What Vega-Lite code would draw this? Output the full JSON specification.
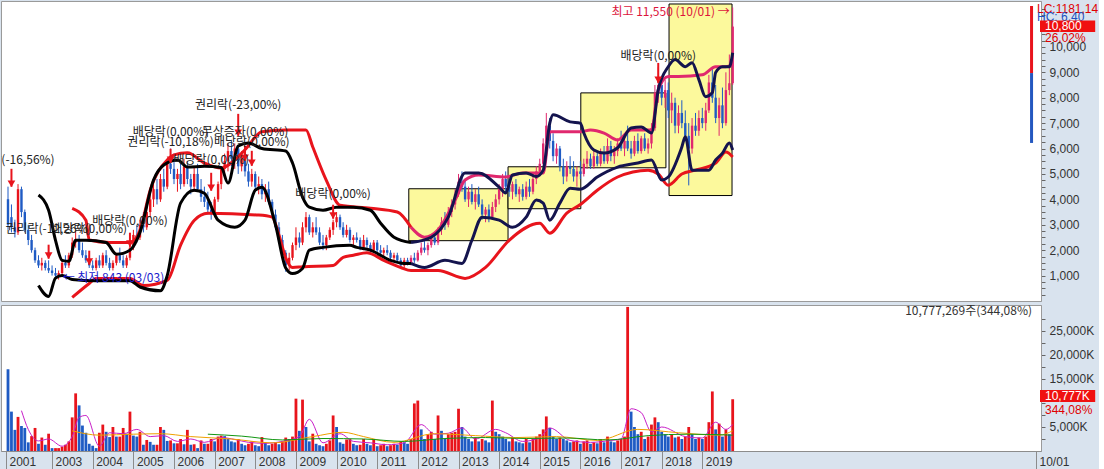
{
"$schema":"https://vega.github.io/schema/vega-lite/v6.json",
"background":"#d9e3ee",
"padding":0,
"spacing":2,
"config":{"view":{"stroke":"#9a9a9a","fill":"#ffffff"},"font":"Noto Sans CJK KR",
"axisY":{"tickSize":4,"tickColor":"#666666","domainColor":"#9a9a9a","labelColor":"#333333","labelFont":"Liberation Sans","labelFontSize":12,"labelPadding":4,"labelOverlap":false,"labelFlush":false,"labelBound":false,"grid":false}},
"datasets":{
"px":[
{"d":"2001-12","o":4000,"h":4500,"l":2800,"c":3000,"v":17000},
{"d":"2002-01","o":3300,"h":3800,"l":2700,"c":2900,"v":8200},
{"d":"2002-02","o":2900,"h":3200,"l":2500,"c":2700,"v":4400},
{"d":"2002-03","o":2700,"h":4600,"l":2600,"c":4400,"v":7100},
{"d":"2002-04","o":4400,"h":4500,"l":3300,"c":3500,"v":5200},
{"d":"2002-05","o":3500,"h":3600,"l":2700,"c":2800,"v":4800},
{"d":"2002-06","o":2800,"h":3000,"l":2200,"c":2400,"v":1800},
{"d":"2002-07","o":2400,"h":2600,"l":1900,"c":2000,"v":3100},
{"d":"2002-08","o":2000,"h":2100,"l":1500,"c":1600,"v":4800},
{"d":"2002-09","o":1600,"h":1800,"l":1300,"c":1400,"v":1500},
{"d":"2002-10","o":1400,"h":1700,"l":1200,"c":1500,"v":2800},
{"d":"2002-11","o":1500,"h":1600,"l":1200,"c":1300,"v":1300},
{"d":"2002-12","o":1300,"h":1600,"l":1100,"c":1200,"v":3600},
{"d":"2003-01","o":1200,"h":1400,"l":1000,"c":1100,"v":600},
{"d":"2003-02","o":1100,"h":1300,"l":950,"c":1000,"v":600},
{"d":"2003-03","o":1000,"h":1200,"l":843,"c":1100,"v":600},
{"d":"2003-04","o":1100,"h":1600,"l":1000,"c":1500,"v":900},
{"d":"2003-05","o":1500,"h":1800,"l":1300,"c":1400,"v":1300},
{"d":"2003-06","o":1400,"h":1900,"l":1300,"c":1800,"v":2000},
{"d":"2003-07","o":1800,"h":2500,"l":1700,"c":2300,"v":7000},
{"d":"2003-08","o":2300,"h":2800,"l":2100,"c":2400,"v":12000},
{"d":"2003-09","o":2400,"h":2600,"l":1900,"c":2000,"v":9500},
{"d":"2003-10","o":2000,"h":2300,"l":1700,"c":1800,"v":5300},
{"d":"2003-11","o":1800,"h":2000,"l":1500,"c":1600,"v":3800},
{"d":"2003-12","o":1600,"h":1800,"l":1300,"c":1400,"v":1500},
{"d":"2004-01","o":1400,"h":1600,"l":1200,"c":1300,"v":1100},
{"d":"2004-02","o":1300,"h":1700,"l":1200,"c":1600,"v":600},
{"d":"2004-03","o":1600,"h":1800,"l":1300,"c":1400,"v":3800},
{"d":"2004-04","o":1400,"h":1900,"l":1300,"c":1800,"v":5500},
{"d":"2004-05","o":1800,"h":2000,"l":1400,"c":1500,"v":4000},
{"d":"2004-06","o":1500,"h":1700,"l":1200,"c":1300,"v":2900},
{"d":"2004-07","o":1300,"h":1600,"l":1200,"c":1500,"v":5000},
{"d":"2004-08","o":1500,"h":1900,"l":1400,"c":1800,"v":3000},
{"d":"2004-09","o":1800,"h":2100,"l":1500,"c":1600,"v":3000},
{"d":"2004-10","o":1600,"h":1800,"l":1300,"c":1400,"v":4800},
{"d":"2004-11","o":1400,"h":1800,"l":1300,"c":1700,"v":3600},
{"d":"2004-12","o":1700,"h":2200,"l":1600,"c":2100,"v":8200},
{"d":"2005-01","o":2100,"h":2800,"l":2000,"c":2600,"v":3200},
{"d":"2005-02","o":2600,"h":3000,"l":2300,"c":2500,"v":3000},
{"d":"2005-03","o":2500,"h":3200,"l":2400,"c":3000,"v":4000},
{"d":"2005-04","o":3000,"h":3500,"l":2700,"c":2900,"v":1300},
{"d":"2005-05","o":2900,"h":3700,"l":2800,"c":3500,"v":2300},
{"d":"2005-06","o":3500,"h":4200,"l":3300,"c":4000,"v":1900},
{"d":"2005-07","o":4000,"h":4600,"l":3700,"c":4400,"v":1300},
{"d":"2005-08","o":4400,"h":4800,"l":3800,"c":4000,"v":1300},
{"d":"2005-09","o":4000,"h":5000,"l":3900,"c":4800,"v":5000},
{"d":"2005-10","o":4800,"h":5200,"l":4300,"c":4500,"v":4400},
{"d":"2005-11","o":4500,"h":5600,"l":4400,"c":5400,"v":2100},
{"d":"2005-12","o":5400,"h":6000,"l":5000,"c":5200,"v":2200},
{"d":"2006-01","o":5200,"h":5800,"l":4600,"c":4800,"v":1600},
{"d":"2006-02","o":4800,"h":5200,"l":4300,"c":5000,"v":1600},
{"d":"2006-03","o":5000,"h":5400,"l":4400,"c":4600,"v":2500},
{"d":"2006-04","o":4600,"h":5600,"l":4500,"c":5300,"v":1400},
{"d":"2006-05","o":5300,"h":5500,"l":4600,"c":4800,"v":4400},
{"d":"2006-06","o":4800,"h":5000,"l":4200,"c":4500,"v":1300},
{"d":"2006-07","o":4500,"h":5300,"l":4300,"c":5000,"v":1400},
{"d":"2006-08","o":5000,"h":5400,"l":4300,"c":4400,"v":600},
{"d":"2006-09","o":4400,"h":4800,"l":3900,"c":4100,"v":2200},
{"d":"2006-10","o":4100,"h":4500,"l":3700,"c":3900,"v":1500},
{"d":"2006-11","o":3900,"h":4300,"l":3400,"c":3600,"v":1500},
{"d":"2006-12","o":3600,"h":3900,"l":3200,"c":3500,"v":2500},
{"d":"2007-01","o":3500,"h":4100,"l":3300,"c":4000,"v":2000},
{"d":"2007-02","o":4000,"h":4700,"l":3900,"c":4600,"v":3000},
{"d":"2007-03","o":4600,"h":5300,"l":4400,"c":5200,"v":3200},
{"d":"2007-04","o":5200,"h":5800,"l":4900,"c":5500,"v":3100},
{"d":"2007-05","o":5500,"h":6200,"l":5100,"c":5900,"v":2500},
{"d":"2007-06","o":5900,"h":6300,"l":5300,"c":5600,"v":2000},
{"d":"2007-07","o":5600,"h":6200,"l":5200,"c":6000,"v":1800},
{"d":"2007-08","o":6000,"h":6100,"l":5000,"c":5300,"v":2500},
{"d":"2007-09","o":5300,"h":5900,"l":5100,"c":5700,"v":1500},
{"d":"2007-10","o":5700,"h":5900,"l":4900,"c":5100,"v":1200},
{"d":"2007-11","o":5100,"h":5400,"l":4500,"c":4700,"v":1500},
{"d":"2007-12","o":4700,"h":5200,"l":4500,"c":5000,"v":2000},
{"d":"2008-01","o":5000,"h":5100,"l":4300,"c":4500,"v":1200},
{"d":"2008-02","o":4500,"h":4900,"l":4200,"c":4600,"v":1000},
{"d":"2008-03","o":4600,"h":4800,"l":4000,"c":4200,"v":2900},
{"d":"2008-04","o":4200,"h":4600,"l":3900,"c":4400,"v":1800},
{"d":"2008-05","o":4400,"h":4700,"l":3800,"c":3900,"v":1200},
{"d":"2008-06","o":3900,"h":4000,"l":3300,"c":3400,"v":1500},
{"d":"2008-07","o":3400,"h":3600,"l":2800,"c":2900,"v":1800},
{"d":"2008-08","o":2900,"h":3100,"l":2300,"c":2400,"v":1400},
{"d":"2008-09","o":2400,"h":2600,"l":1800,"c":1900,"v":2000},
{"d":"2008-10","o":1900,"h":2000,"l":1150,"c":1400,"v":2800},
{"d":"2008-11","o":1400,"h":1900,"l":1200,"c":1700,"v":2500},
{"d":"2008-12","o":1700,"h":2300,"l":1600,"c":2200,"v":3000},
{"d":"2009-01","o":2200,"h":2900,"l":2000,"c":2500,"v":10900},
{"d":"2009-02","o":2500,"h":2700,"l":2100,"c":2300,"v":4200},
{"d":"2009-03","o":2300,"h":3100,"l":2200,"c":2900,"v":10700},
{"d":"2009-04","o":2900,"h":3500,"l":2700,"c":3300,"v":5000},
{"d":"2009-05","o":3300,"h":3400,"l":2600,"c":2700,"v":2000},
{"d":"2009-06","o":2700,"h":3100,"l":2500,"c":2900,"v":3600},
{"d":"2009-07","o":2900,"h":3300,"l":2600,"c":2700,"v":1500},
{"d":"2009-08","o":2700,"h":2900,"l":2200,"c":2300,"v":1200},
{"d":"2009-09","o":2300,"h":2600,"l":2000,"c":2200,"v":1000},
{"d":"2009-10","o":2200,"h":2600,"l":2000,"c":2500,"v":1500},
{"d":"2009-11","o":2500,"h":2900,"l":2400,"c":2800,"v":2200},
{"d":"2009-12","o":2800,"h":3200,"l":2600,"c":3100,"v":7400},
{"d":"2010-01","o":3100,"h":3500,"l":2900,"c":3300,"v":5000},
{"d":"2010-02","o":3300,"h":3400,"l":2800,"c":2900,"v":1800},
{"d":"2010-03","o":2900,"h":3100,"l":2500,"c":2600,"v":1500},
{"d":"2010-04","o":2600,"h":3000,"l":2500,"c":2800,"v":2400},
{"d":"2010-05","o":2800,"h":2900,"l":2300,"c":2400,"v":2500},
{"d":"2010-06","o":2400,"h":2600,"l":2200,"c":2500,"v":1500},
{"d":"2010-07","o":2500,"h":2700,"l":2300,"c":2400,"v":1200},
{"d":"2010-08","o":2400,"h":2500,"l":2000,"c":2100,"v":1300},
{"d":"2010-09","o":2100,"h":2600,"l":2000,"c":2400,"v":2500},
{"d":"2010-10","o":2400,"h":2500,"l":2100,"c":2200,"v":1500},
{"d":"2010-11","o":2200,"h":2300,"l":1900,"c":2000,"v":1200},
{"d":"2010-12","o":2000,"h":2400,"l":1900,"c":2300,"v":2500},
{"d":"2011-01","o":2300,"h":2400,"l":1900,"c":2000,"v":1000},
{"d":"2011-02","o":2000,"h":2200,"l":1800,"c":1900,"v":1200},
{"d":"2011-03","o":1900,"h":2100,"l":1700,"c":2000,"v":1500},
{"d":"2011-04","o":2000,"h":2200,"l":1800,"c":1900,"v":1000},
{"d":"2011-05","o":1900,"h":2000,"l":1600,"c":1700,"v":1200},
{"d":"2011-06","o":1700,"h":1900,"l":1600,"c":1800,"v":1500},
{"d":"2011-07","o":1800,"h":1900,"l":1500,"c":1600,"v":1300},
{"d":"2011-08","o":1600,"h":1700,"l":1300,"c":1400,"v":2000},
{"d":"2011-09","o":1400,"h":1700,"l":1300,"c":1600,"v":1800},
{"d":"2011-10","o":1600,"h":1700,"l":1400,"c":1500,"v":1500},
{"d":"2011-11","o":1500,"h":1800,"l":1400,"c":1700,"v":2500},
{"d":"2011-12","o":1700,"h":1900,"l":1500,"c":1600,"v":9900},
{"d":"2012-01","o":1600,"h":2000,"l":1550,"c":1900,"v":10500},
{"d":"2012-02","o":1900,"h":2300,"l":1800,"c":2100,"v":4500},
{"d":"2012-03","o":2100,"h":2400,"l":1900,"c":2000,"v":2500},
{"d":"2012-04","o":2000,"h":2300,"l":1800,"c":2200,"v":3500},
{"d":"2012-05","o":2200,"h":2600,"l":2100,"c":2500,"v":4000},
{"d":"2012-06","o":2500,"h":2700,"l":2200,"c":2300,"v":2500},
{"d":"2012-07","o":2300,"h":2900,"l":2200,"c":2800,"v":7400},
{"d":"2012-08","o":2800,"h":3300,"l":2600,"c":3100,"v":4200},
{"d":"2012-09","o":3100,"h":3500,"l":2800,"c":3000,"v":2500},
{"d":"2012-10","o":3000,"h":3700,"l":2900,"c":3500,"v":3500},
{"d":"2012-11","o":3500,"h":4000,"l":3300,"c":3800,"v":3800},
{"d":"2012-12","o":3800,"h":4400,"l":3600,"c":4200,"v":4000},
{"d":"2013-01","o":4200,"h":5000,"l":4100,"c":4700,"v":8800},
{"d":"2013-02","o":4700,"h":5100,"l":4300,"c":4500,"v":5000},
{"d":"2013-03","o":4500,"h":4800,"l":3900,"c":4000,"v":3000},
{"d":"2013-04","o":4000,"h":4500,"l":3700,"c":4300,"v":2500},
{"d":"2013-05","o":4300,"h":4600,"l":3800,"c":3900,"v":2000},
{"d":"2013-06","o":3900,"h":4400,"l":3600,"c":4200,"v":2800},
{"d":"2013-07","o":4200,"h":4500,"l":3700,"c":3800,"v":2000},
{"d":"2013-08","o":3800,"h":4000,"l":3200,"c":3400,"v":2500},
{"d":"2013-09","o":3400,"h":3700,"l":3100,"c":3600,"v":2200},
{"d":"2013-10","o":3600,"h":3800,"l":3100,"c":3300,"v":1800},
{"d":"2013-11","o":3300,"h":3900,"l":3200,"c":3700,"v":10500},
{"d":"2013-12","o":3700,"h":4200,"l":3500,"c":4000,"v":4000},
{"d":"2014-01","o":4000,"h":4600,"l":3800,"c":4400,"v":3500},
{"d":"2014-02","o":4400,"h":5000,"l":4100,"c":4800,"v":3000},
{"d":"2014-03","o":4800,"h":5100,"l":4300,"c":4500,"v":2500},
{"d":"2014-04","o":4500,"h":4800,"l":4100,"c":4300,"v":2000},
{"d":"2014-05","o":4300,"h":4700,"l":4000,"c":4600,"v":2800},
{"d":"2014-06","o":4600,"h":4800,"l":4100,"c":4200,"v":2000},
{"d":"2014-07","o":4200,"h":4500,"l":3900,"c":4400,"v":1800},
{"d":"2014-08","o":4400,"h":4600,"l":3950,"c":4100,"v":1600},
{"d":"2014-09","o":4100,"h":4700,"l":4000,"c":4500,"v":2500},
{"d":"2014-10","o":4500,"h":4800,"l":4100,"c":4300,"v":1800},
{"d":"2014-11","o":4300,"h":5000,"l":4200,"c":4800,"v":2500},
{"d":"2014-12","o":4800,"h":5300,"l":4600,"c":5100,"v":3000},
{"d":"2015-01","o":5100,"h":5600,"l":4900,"c":5400,"v":3500},
{"d":"2015-02","o":5400,"h":6400,"l":5300,"c":6200,"v":4500},
{"d":"2015-03","o":6200,"h":7400,"l":5900,"c":6900,"v":7200},
{"d":"2015-04","o":6900,"h":7200,"l":6000,"c":6300,"v":4800},
{"d":"2015-05","o":6300,"h":6600,"l":5500,"c":5700,"v":3000},
{"d":"2015-06","o":5700,"h":6200,"l":5400,"c":6000,"v":2500},
{"d":"2015-07","o":6000,"h":6100,"l":5100,"c":5300,"v":2800},
{"d":"2015-08","o":5300,"h":5600,"l":4600,"c":4900,"v":2500},
{"d":"2015-09","o":4900,"h":5500,"l":4700,"c":5300,"v":2200},
{"d":"2015-10","o":5300,"h":5700,"l":5000,"c":5200,"v":1800},
{"d":"2015-11","o":5200,"h":5500,"l":4700,"c":4900,"v":2000},
{"d":"2015-12","o":4900,"h":5300,"l":4500,"c":5100,"v":2200},
{"d":"2016-01","o":5100,"h":5500,"l":4800,"c":5000,"v":1500},
{"d":"2016-02","o":5000,"h":5600,"l":4900,"c":5400,"v":2000},
{"d":"2016-03","o":5400,"h":5900,"l":5200,"c":5600,"v":2200},
{"d":"2016-04","o":5600,"h":5800,"l":5200,"c":5300,"v":1500},
{"d":"2016-05","o":5300,"h":5900,"l":5200,"c":5700,"v":1800},
{"d":"2016-06","o":5700,"h":5900,"l":5300,"c":5400,"v":1600},
{"d":"2016-07","o":5400,"h":6000,"l":5300,"c":5800,"v":2500},
{"d":"2016-08","o":5800,"h":6100,"l":5400,"c":5500,"v":1800},
{"d":"2016-09","o":5500,"h":6400,"l":5400,"c":6100,"v":3000},
{"d":"2016-10","o":6100,"h":6300,"l":5500,"c":5700,"v":2000},
{"d":"2016-11","o":5700,"h":6100,"l":5400,"c":5900,"v":1800},
{"d":"2016-12","o":5900,"h":6400,"l":5700,"c":6200,"v":2200},
{"d":"2017-01","o":6200,"h":6700,"l":5900,"c":6000,"v":2500},
{"d":"2017-02","o":6000,"h":6500,"l":5700,"c":6300,"v":3000},
{"d":"2017-03","o":6300,"h":6900,"l":5900,"c":6000,"v":30000},
{"d":"2017-04","o":6000,"h":6300,"l":5600,"c":5800,"v":8200},
{"d":"2017-05","o":5800,"h":6500,"l":5700,"c":6300,"v":5000},
{"d":"2017-06","o":6300,"h":6600,"l":5800,"c":5900,"v":3500},
{"d":"2017-07","o":5900,"h":6500,"l":5800,"c":6400,"v":4000},
{"d":"2017-08","o":6400,"h":6600,"l":5900,"c":6000,"v":2500},
{"d":"2017-09","o":6000,"h":6400,"l":5800,"c":6200,"v":3000},
{"d":"2017-10","o":6200,"h":7000,"l":6000,"c":6800,"v":5500},
{"d":"2017-11","o":6800,"h":8500,"l":6700,"c":8200,"v":7000},
{"d":"2017-12","o":8200,"h":9200,"l":7800,"c":8500,"v":6000},
{"d":"2018-01","o":8500,"h":8800,"l":7700,"c":8000,"v":4000},
{"d":"2018-02","o":8000,"h":8700,"l":7600,"c":8300,"v":3500},
{"d":"2018-03","o":8300,"h":8600,"l":7200,"c":7500,"v":3000},
{"d":"2018-04","o":7500,"h":8200,"l":7000,"c":7800,"v":3500},
{"d":"2018-05","o":7800,"h":8000,"l":6600,"c":6900,"v":2800},
{"d":"2018-06","o":6900,"h":7700,"l":6600,"c":7400,"v":3000},
{"d":"2018-07","o":7400,"h":7900,"l":6800,"c":7000,"v":2500},
{"d":"2018-08","o":7000,"h":7500,"l":6300,"c":6500,"v":3000},
{"d":"2018-09","o":6500,"h":7000,"l":4550,"c":6000,"v":5000},
{"d":"2018-10","o":6000,"h":7200,"l":5800,"c":6900,"v":3500},
{"d":"2018-11","o":6900,"h":7400,"l":6500,"c":6700,"v":2500},
{"d":"2018-12","o":6700,"h":7500,"l":6500,"c":7200,"v":2800},
{"d":"2019-01","o":7200,"h":7600,"l":6800,"c":7000,"v":2500},
{"d":"2019-02","o":7000,"h":7800,"l":6700,"c":7500,"v":3000},
{"d":"2019-03","o":7500,"h":8900,"l":7400,"c":8600,"v":6000},
{"d":"2019-04","o":8600,"h":9200,"l":7800,"c":8000,"v":12400},
{"d":"2019-05","o":8000,"h":8500,"l":7000,"c":7200,"v":4500},
{"d":"2019-06","o":7200,"h":8000,"l":6500,"c":7700,"v":5700},
{"d":"2019-07","o":7700,"h":8400,"l":6800,"c":7000,"v":3000},
{"d":"2019-08","o":7000,"h":9000,"l":6900,"c":8300,"v":4500},
{"d":"2019-09","o":8300,"h":9700,"l":8100,"c":8570,"v":3500},
{"d":"2019-10","o":8570,"h":11550,"l":8500,"c":10800,"v":10777}
],
"bands":[
{"s":"RU1","d":"2003-07","v":3650},{"s":"RU1","d":"2003-11","v":3180},{"s":"RU1","d":"2003-12","v":2400},{"s":"RU1","d":"2004-06","v":2300},{"s":"RU1","d":"2004-12","v":2300},{"s":"RU1","d":"2005-03","v":2780},{"s":"RU1","d":"2005-06","v":4360},{"s":"RU1","d":"2005-11","v":5550},{"s":"RU1","d":"2006-01","v":5750},{"s":"RU1","d":"2006-05","v":5830},{"s":"RU1","d":"2006-10","v":5430},{"s":"RU1","d":"2007-03","v":5230},{"s":"RU1","d":"2007-07","v":5550},{"s":"RU1","d":"2007-10","v":5950},{"s":"RU1","d":"2008-03","v":6660},{"s":"RU1","d":"2008-10","v":6730},{"s":"RU1","d":"2009-04","v":6730},{"s":"RU1","d":"2009-06","v":6060},{"s":"RU1","d":"2009-10","v":4750},{"s":"RU1","d":"2010-02","v":3770},{"s":"RU1","d":"2010-11","v":3650},{"s":"RU1","d":"2011-07","v":3500},{"s":"RU1","d":"2011-11","v":2900},
{"s":"RU2","d":"2011-11","v":2900},{"s":"RU2","d":"2012-03","v":2510},{"s":"RU2","d":"2012-07","v":2800},{"s":"RU2","d":"2012-12","v":3970},{"s":"RU2","d":"2013-03","v":4760},{"s":"RU2","d":"2013-07","v":4960},{"s":"RU2","d":"2014-03","v":4880},{"s":"RU2","d":"2014-08","v":5040},{"s":"RU2","d":"2015-02","v":5040},{"s":"RU2","d":"2015-04","v":6660},{"s":"RU2","d":"2016-01","v":6660},{"s":"RU2","d":"2016-04","v":6730},{"s":"RU2","d":"2016-08","v":6610},{"s":"RU2","d":"2016-12","v":6340},{"s":"RU2","d":"2017-04","v":6730},{"s":"RU2","d":"2017-10","v":6730},{"s":"RU2","d":"2017-12","v":8310},{"s":"RU2","d":"2018-03","v":8830},{"s":"RU2","d":"2018-06","v":8830},{"s":"RU2","d":"2019-01","v":8900},{"s":"RU2","d":"2019-05","v":9220},{"s":"RU2","d":"2019-08","v":9220},{"s":"RU2","d":"2019-10","v":9300},
{"s":"RL","d":"2003-07","v":140},{"s":"RL","d":"2003-12","v":690},{"s":"RL","d":"2004-02","v":890},{"s":"RL","d":"2004-12","v":890},{"s":"RL","d":"2005-04","v":610},{"s":"RL","d":"2005-11","v":810},{"s":"RL","d":"2006-03","v":2200},{"s":"RL","d":"2006-07","v":3170},{"s":"RL","d":"2006-11","v":3450},{"s":"RL","d":"2008-02","v":3380},{"s":"RL","d":"2008-06","v":3300},{"s":"RL","d":"2008-08","v":2600},{"s":"RL","d":"2008-10","v":1700},{"s":"RL","d":"2008-12","v":1320},{"s":"RL","d":"2009-03","v":1350},{"s":"RL","d":"2009-12","v":1400},{"s":"RL","d":"2010-03","v":1720},{"s":"RL","d":"2010-06","v":1800},{"s":"RL","d":"2010-10","v":1900},{"s":"RL","d":"2011-03","v":1600},{"s":"RL","d":"2011-08","v":1320},{"s":"RL","d":"2011-11","v":1200},{"s":"RL","d":"2012-07","v":1200},{"s":"RL","d":"2013-03","v":890},{"s":"RL","d":"2013-09","v":1320},{"s":"RL","d":"2014-04","v":2390},{"s":"RL","d":"2015-01","v":3060},{"s":"RL","d":"2015-04","v":2670},{"s":"RL","d":"2015-09","v":3460},{"s":"RL","d":"2016-01","v":3800},{"s":"RL","d":"2016-06","v":4360},{"s":"RL","d":"2016-12","v":4880},{"s":"RL","d":"2017-09","v":5150},{"s":"RL","d":"2017-12","v":5000},{"s":"RL","d":"2018-03","v":4560},{"s":"RL","d":"2018-07","v":5000},{"s":"RL","d":"2018-11","v":5150},{"s":"RL","d":"2019-05","v":5430},{"s":"RL","d":"2019-08","v":5860},{"s":"RL","d":"2019-10","v":5670},
{"s":"BU1","d":"2002-09","v":4170},{"s":"BU1","d":"2002-12","v":3570},{"s":"BU1","d":"2003-02","v":2390},{"s":"BU1","d":"2003-04","v":1600},{"s":"BU1","d":"2003-06","v":1560},{"s":"BU1","d":"2003-08","v":2390},{"s":"BU1","d":"2003-11","v":2390},{"s":"BU1","d":"2004-05","v":2300},{"s":"BU1","d":"2004-08","v":1840},{"s":"BU1","d":"2004-12","v":2000},{"s":"BU1","d":"2005-03","v":2700},{"s":"BU1","d":"2005-07","v":4760},{"s":"BU1","d":"2005-10","v":5350},{"s":"BU1","d":"2006-02","v":5550},{"s":"BU1","d":"2006-05","v":5270},{"s":"BU1","d":"2006-10","v":5300},{"s":"BU1","d":"2007-03","v":5250},{"s":"BU1","d":"2007-05","v":4640},{"s":"BU1","d":"2007-08","v":6100},{"s":"BU1","d":"2007-11","v":6220},{"s":"BU1","d":"2008-03","v":6000},{"s":"BU1","d":"2008-10","v":5900},{"s":"BU1","d":"2008-12","v":5430},{"s":"BU1","d":"2009-03","v":4090},{"s":"BU1","d":"2009-05","v":3690},{"s":"BU1","d":"2009-09","v":3570},{"s":"BU1","d":"2010-01","v":3690},{"s":"BU1","d":"2010-06","v":3690},{"s":"BU1","d":"2010-11","v":3570},{"s":"BU1","d":"2011-02","v":3060},{"s":"BU1","d":"2011-06","v":2510},{"s":"BU1","d":"2011-11","v":2300},
{"s":"BU2","d":"2011-11","v":2300},{"s":"BU2","d":"2012-05","v":2510},{"s":"BU2","d":"2012-10","v":3300},{"s":"BU2","d":"2013-03","v":5040},{"s":"BU2","d":"2013-07","v":5040},{"s":"BU2","d":"2014-01","v":4480},{"s":"BU2","d":"2014-03","v":4250},{"s":"BU2","d":"2014-05","v":4960},{"s":"BU2","d":"2014-09","v":5040},{"s":"BU2","d":"2014-12","v":4900},{"s":"BU2","d":"2015-02","v":5150},{"s":"BU2","d":"2015-04","v":7000},{"s":"BU2","d":"2015-05","v":7330},{"s":"BU2","d":"2015-10","v":7050},{"s":"BU2","d":"2016-01","v":7000},{"s":"BU2","d":"2016-02","v":6610},{"s":"BU2","d":"2016-05","v":5940},{"s":"BU2","d":"2016-08","v":5820},{"s":"BU2","d":"2016-12","v":6030},{"s":"BU2","d":"2017-04","v":6810},{"s":"BU2","d":"2017-07","v":6850},{"s":"BU2","d":"2017-10","v":6610},{"s":"BU2","d":"2017-12","v":8310},{"s":"BU2","d":"2018-03","v":9220},{"s":"BU2","d":"2018-05","v":9500},{"s":"BU2","d":"2018-08","v":9220},{"s":"BU2","d":"2018-10","v":9380},{"s":"BU2","d":"2018-12","v":8710},{"s":"BU2","d":"2019-02","v":8040},{"s":"BU2","d":"2019-04","v":8200},{"s":"BU2","d":"2019-05","v":8990},{"s":"BU2","d":"2019-07","v":9220},{"s":"BU2","d":"2019-09","v":9220},{"s":"BU2","d":"2019-10","v":9770},
{"s":"BL1","d":"2002-09","v":610},{"s":"BL1","d":"2002-12","v":180},{"s":"BL1","d":"2003-02","v":900},{"s":"BL1","d":"2003-04","v":1000},{"s":"BL1","d":"2003-07","v":850},{"s":"BL1","d":"2004-02","v":800},{"s":"BL1","d":"2004-12","v":800},{"s":"BL1","d":"2005-03","v":550},{"s":"BL1","d":"2005-09","v":400},{"s":"BL1","d":"2005-11","v":1000},{"s":"BL1","d":"2006-03","v":3850},{"s":"BL1","d":"2006-07","v":4360},{"s":"BL1","d":"2006-10","v":4240},{"s":"BL1","d":"2007-02","v":3180},{"s":"BL1","d":"2007-07","v":2900},{"s":"BL1","d":"2007-10","v":3180},{"s":"BL1","d":"2008-01","v":4360},{"s":"BL1","d":"2008-03","v":4480},{"s":"BL1","d":"2008-07","v":3000},{"s":"BL1","d":"2008-10","v":1300},{"s":"BL1","d":"2008-12","v":1080},{"s":"BL1","d":"2009-03","v":1280},{"s":"BL1","d":"2009-05","v":2000},{"s":"BL1","d":"2009-09","v":2110},{"s":"BL1","d":"2010-05","v":2190},{"s":"BL1","d":"2010-07","v":2110},{"s":"BL1","d":"2010-11","v":2000},{"s":"BL1","d":"2011-05","v":1600},{"s":"BL1","d":"2011-09","v":1480},{"s":"BL1","d":"2011-11","v":1480},
{"s":"BL2","d":"2011-11","v":1480},{"s":"BL2","d":"2012-03","v":1320},{"s":"BL2","d":"2012-09","v":1600},{"s":"BL2","d":"2013-02","v":1480},{"s":"BL2","d":"2013-05","v":2390},{"s":"BL2","d":"2013-08","v":3300},{"s":"BL2","d":"2014-01","v":3180},{"s":"BL2","d":"2014-05","v":2900},{"s":"BL2","d":"2014-09","v":3300},{"s":"BL2","d":"2014-12","v":3970},{"s":"BL2","d":"2015-02","v":3850},{"s":"BL2","d":"2015-04","v":3180},{"s":"BL2","d":"2015-07","v":3850},{"s":"BL2","d":"2015-10","v":4440},{"s":"BL2","d":"2016-01","v":4400},{"s":"BL2","d":"2016-06","v":4880},{"s":"BL2","d":"2016-12","v":5270},{"s":"BL2","d":"2017-06","v":5430},{"s":"BL2","d":"2017-10","v":5550},{"s":"BL2","d":"2018-01","v":4760},{"s":"BL2","d":"2018-03","v":4880},{"s":"BL2","d":"2018-07","v":6060},{"s":"BL2","d":"2018-08","v":6460},{"s":"BL2","d":"2018-10","v":5150},{"s":"BL2","d":"2019-03","v":5150},{"s":"BL2","d":"2019-05","v":5550},{"s":"BL2","d":"2019-07","v":5820},{"s":"BL2","d":"2019-09","v":6220},{"s":"BL2","d":"2019-10","v":5940}
],
"vma":[
{"s":"M5","d":"2002-04","v":8400},{"s":"M5","d":"2002-06","v":4500},{"s":"M5","d":"2002-09","v":2100},{"s":"M5","d":"2002-12","v":2500},{"s":"M5","d":"2003-04","v":1000},{"s":"M5","d":"2003-07","v":3000},{"s":"M5","d":"2003-09","v":7000},{"s":"M5","d":"2003-11","v":7400},{"s":"M5","d":"2004-03","v":1000},{"s":"M5","d":"2004-06","v":3800},{"s":"M5","d":"2004-10","v":3600},{"s":"M5","d":"2005-02","v":4500},{"s":"M5","d":"2005-06","v":3000},{"s":"M5","d":"2005-10","v":3200},{"s":"M5","d":"2006-02","v":2000},{"s":"M5","d":"2006-06","v":2500},{"s":"M5","d":"2006-10","v":1800},{"s":"M5","d":"2007-03","v":2800},{"s":"M5","d":"2007-07","v":2400},{"s":"M5","d":"2007-11","v":1800},{"s":"M5","d":"2008-04","v":1600},{"s":"M5","d":"2008-09","v":2000},{"s":"M5","d":"2009-02","v":3000},{"s":"M5","d":"2009-05","v":6600},{"s":"M5","d":"2009-09","v":1700},{"s":"M5","d":"2010-02","v":3600},{"s":"M5","d":"2010-06","v":2000},{"s":"M5","d":"2010-11","v":1700},{"s":"M5","d":"2011-04","v":1300},{"s":"M5","d":"2011-09","v":1700},{"s":"M5","d":"2012-02","v":5500},{"s":"M5","d":"2012-06","v":3500},{"s":"M5","d":"2012-10","v":3700},{"s":"M5","d":"2013-02","v":4800},{"s":"M5","d":"2013-06","v":2500},{"s":"M5","d":"2013-12","v":4500},{"s":"M5","d":"2014-03","v":3800},{"s":"M5","d":"2014-08","v":2000},{"s":"M5","d":"2015-01","v":2800},{"s":"M5","d":"2015-04","v":4800},{"s":"M5","d":"2015-10","v":2200},{"s":"M5","d":"2016-04","v":1800},{"s":"M5","d":"2016-10","v":2200},{"s":"M5","d":"2017-01","v":2500},{"s":"M5","d":"2017-04","v":8800},{"s":"M5","d":"2017-07","v":8000},{"s":"M5","d":"2017-10","v":4000},{"s":"M5","d":"2018-01","v":5000},{"s":"M5","d":"2018-08","v":3000},{"s":"M5","d":"2019-01","v":2700},{"s":"M5","d":"2019-05","v":6000},{"s":"M5","d":"2019-08","v":4500},{"s":"M5","d":"2019-10","v":5500},
{"s":"M20","d":"2003-07","v":4200},{"s":"M20","d":"2004-03","v":3300},{"s":"M20","d":"2005-01","v":3500},{"s":"M20","d":"2005-09","v":3600},{"s":"M20","d":"2006-06","v":3000},{"s":"M20","d":"2007-06","v":2500},{"s":"M20","d":"2008-06","v":1700},{"s":"M20","d":"2009-06","v":3000},{"s":"M20","d":"2010-03","v":3900},{"s":"M20","d":"2010-09","v":3000},{"s":"M20","d":"2011-06","v":1800},{"s":"M20","d":"2012-06","v":3600},{"s":"M20","d":"2013-06","v":3200},{"s":"M20","d":"2014-06","v":2800},{"s":"M20","d":"2015-06","v":3000},{"s":"M20","d":"2016-06","v":2200},{"s":"M20","d":"2017-06","v":4500},{"s":"M20","d":"2018-06","v":3800},{"s":"M20","d":"2019-06","v":3300},{"s":"M20","d":"2019-10","v":4200},
{"s":"M60","d":"2006-11","v":3500},{"s":"M60","d":"2007-09","v":3100},{"s":"M60","d":"2008-09","v":2300},{"s":"M60","d":"2009-09","v":2600},{"s":"M60","d":"2010-09","v":2500},{"s":"M60","d":"2011-09","v":2000},{"s":"M60","d":"2012-09","v":2600},{"s":"M60","d":"2013-09","v":2800},{"s":"M60","d":"2014-09","v":2600},{"s":"M60","d":"2015-09","v":2700},{"s":"M60","d":"2016-09","v":2300},{"s":"M60","d":"2017-09","v":3200},{"s":"M60","d":"2018-09","v":3500},{"s":"M60","d":"2019-10","v":3300}
],
"ev":[
{"d":"2002-01","t":"권리락(-16,56%)","ly":5557,"at":5203,"ab":4496},
{"d":"2002-12","t":"권리락(-12,26%)","ly":2845,"at":2216,"ab":1666},
{"d":"2003-12","t":"배당락(0,00%)","ly":2845,"at":1981,"ab":1431},
{"d":"2004-12","t":"배당락(0,00%)","ly":3160,"at":2688,"ab":2138},
{"d":"2005-12","t":"배당락(0,00%)","ly":6657,"at":5990,"ab":5439},
{"d":"2005-12","t":"권리락(-10,18%)","ly":6264,"at":null,"ab":null},
{"d":"2006-12","t":"배당락(0,00%)","ly":5557,"at":5046,"ab":4339},
{"d":"2007-08","t":"권리락(-23,00%)","ly":7719,"at":7365,"ab":6500},
{"d":"2007-10","t":"무상증자(0,00%)","ly":6657,"at":6107,"ab":5518},
{"d":"2007-12","t":"배당락(0,00%)","ly":6264,"at":5911,"ab":5321},
{"d":"2009-12","t":"배당락(0,00%)","ly":4220,"at":3789,"ab":3239},
{"d":"2017-12","t":"배당락(0,00%)","ly":9644,"at":9369,"ab":8583}
]
},
"vconcat":[
{
"width":1040,"height":300,
"resolve":{"scale":{"color":"independent"}},
"encoding":{"x":{"field":"d","type":"temporal","scale":{"type":"utc","domain":["2001-11-13","2027-03-19"]},"axis":null}},
"layer":[
{"data":{"values":[
{"d":"2011-10-12","x2":"2014-03-22","y1":2374,"y2":4417},
{"d":"2014-03-22","x2":"2016-01-05","y1":3631,"y2":5282},
{"d":"2016-01-05","x2":"2018-02-08","y1":5242,"y2":8190},
{"d":"2018-03-08","x2":"2019-09-25","y1":4150,"y2":11688}]},
"mark":{"type":"rect","fill":"#fcf99c","stroke":"#000000","strokeWidth":1},
"encoding":{"x2":{"field":"x2"},"y":{"field":"y1","type":"quantitative","scale":{"domain":[0,11806],"nice":false,"zero":false},"axis":{"orient":"right","title":null,"values":[250,500,750,1000,1250,1500,1750,2000,2250,2500,2750,3000,3250,3500,3750,4000,4250,4500,4750,5000,5250,5500,5750,6000,6250,6500,6750,7000,7250,7500,7750,8000,8250,8500,8750,9000,9250,9500,9750,10000,10250,10500,10750,11000,11250,11500],"labelExpr":"(datum.value % 1000 == 0 && datum.value <= 10000) ? format(datum.value, ',') : ''"}},"y2":{"field":"y2"}}},
{"data":{"name":"px"},"mark":{"type":"rule","strokeWidth":1,"clip":true},
"encoding":{"y":{"field":"l","type":"quantitative","axis":{"orient":"right","title":null,"values":[250,500,750,1000,1250,1500,1750,2000,2250,2500,2750,3000,3250,3500,3750,4000,4250,4500,4750,5000,5250,5500,5750,6000,6250,6500,6750,7000,7250,7500,7750,8000,8250,8500,8750,9000,9250,9500,9750,10000,10250,10500,10750,11000,11250,11500],"labelExpr":"(datum.value % 1000 == 0 && datum.value <= 10000) ? format(datum.value, ',') : ''"}},"y2":{"field":"h"},
"color":{"condition":[{"test":"datum.c >= datum.o && time(datum.d) >= utc(2011,9,1)","value":"#e0286e"},{"test":"datum.c >= datum.o","value":"#e8141c"}],"value":"#1f5bc4"}}},
{"data":{"name":"px"},"mark":{"type":"bar","width":2.4,"clip":true},
"encoding":{"y":{"field":"o","type":"quantitative","axis":{"orient":"right","title":null,"values":[250,500,750,1000,1250,1500,1750,2000,2250,2500,2750,3000,3250,3500,3750,4000,4250,4500,4750,5000,5250,5500,5750,6000,6250,6500,6750,7000,7250,7500,7750,8000,8250,8500,8750,9000,9250,9500,9750,10000,10250,10500,10750,11000,11250,11500],"labelExpr":"(datum.value % 1000 == 0 && datum.value <= 10000) ? format(datum.value, ',') : ''"}},"y2":{"field":"c"},
"color":{"condition":[{"test":"datum.c >= datum.o && time(datum.d) >= utc(2011,9,1)","value":"#e0286e"},{"test":"datum.c >= datum.o","value":"#e8141c"}],"value":"#1f5bc4"}}},
{"data":{"name":"bands"},"mark":{"type":"line","strokeWidth":3,"interpolate":"monotone","clip":true},
"encoding":{"y":{"field":"v","type":"quantitative","axis":{"orient":"right","title":null,"values":[250,500,750,1000,1250,1500,1750,2000,2250,2500,2750,3000,3250,3500,3750,4000,4250,4500,4750,5000,5250,5500,5750,6000,6250,6500,6750,7000,7250,7500,7750,8000,8250,8500,8750,9000,9250,9500,9750,10000,10250,10500,10750,11000,11250,11500],"labelExpr":"(datum.value % 1000 == 0 && datum.value <= 10000) ? format(datum.value, ',') : ''"}},
"color":{"field":"s","type":"nominal","legend":null,"scale":{"domain":["RU1","RU2","RL","BU1","BU2","BL1","BL2"],"range":["#e8141c","#e0286e","#e8141c","#000000","#14144e","#000000","#14144e"]}},
"detail":{"field":"s"}}},
{"data":{"name":"ev"},"transform":[{"filter":"isValid(datum.at)"}],"mark":{"type":"rule","strokeWidth":2,"color":"#e8141c","clip":true},
"encoding":{"y":{"field":"at","type":"quantitative","axis":{"orient":"right","title":null,"values":[250,500,750,1000,1250,1500,1750,2000,2250,2500,2750,3000,3250,3500,3750,4000,4250,4500,4750,5000,5250,5500,5750,6000,6250,6500,6750,7000,7250,7500,7750,8000,8250,8500,8750,9000,9250,9500,9750,10000,10250,10500,10750,11000,11250,11500],"labelExpr":"(datum.value % 1000 == 0 && datum.value <= 10000) ? format(datum.value, ',') : ''"}},"y2":{"field":"ab"}}},
{"data":{"name":"ev"},"transform":[{"filter":"isValid(datum.ab)"}],"mark":{"type":"point","shape":"triangle-down","filled":true,"size":60,"strokeWidth":0,"color":"#e8141c","opacity":1,"yOffset":-3,"clip":true},
"encoding":{"y":{"field":"ab","type":"quantitative","axis":{"orient":"right","title":null,"values":[250,500,750,1000,1250,1500,1750,2000,2250,2500,2750,3000,3250,3500,3750,4000,4250,4500,4750,5000,5250,5500,5750,6000,6250,6500,6750,7000,7250,7500,7750,8000,8250,8500,8750,9000,9250,9500,9750,10000,10250,10500,10750,11000,11250,11500],"labelExpr":"(datum.value % 1000 == 0 && datum.value <= 10000) ? format(datum.value, ',') : ''"}}}},
{"data":{"name":"ev"},"mark":{"type":"text","clip":true,"fontSize":12,"font":"Noto Sans CJK KR","color":"#222222","align":"center","baseline":"middle"},
"encoding":{"y":{"field":"ly","type":"quantitative","axis":{"orient":"right","title":null,"values":[250,500,750,1000,1250,1500,1750,2000,2250,2500,2750,3000,3250,3500,3750,4000,4250,4500,4750,5000,5250,5500,5750,6000,6250,6500,6750,7000,7250,7500,7750,8000,8250,8500,8750,9000,9250,9500,9750,10000,10250,10500,10750,11000,11250,11500],"labelExpr":"(datum.value % 1000 == 0 && datum.value <= 10000) ? format(datum.value, ',') : ''"}},"text":{"field":"t"}}},
{"data":{"values":[{"d":"2019-10","p":11550,"t":"최고 11,550 (10/01) →"}]},"mark":{"type":"text","fontSize":12,"font":"Noto Sans CJK KR","color":"#dc143c","align":"right","baseline":"middle","dx":-3,"dy":4},
"encoding":{"y":{"field":"p","type":"quantitative","axis":{"orient":"right","title":null,"values":[250,500,750,1000,1250,1500,1750,2000,2250,2500,2750,3000,3250,3500,3750,4000,4250,4500,4750,5000,5250,5500,5750,6000,6250,6500,6750,7000,7250,7500,7750,8000,8250,8500,8750,9000,9250,9500,9750,10000,10250,10500,10750,11000,11250,11500],"labelExpr":"(datum.value % 1000 == 0 && datum.value <= 10000) ? format(datum.value, ',') : ''"}},"text":{"field":"t"}}},
{"data":{"values":[{"d":"2003-03","p":843,"t":"← 최저 843 (03/03)"}]},"mark":{"type":"text","fontSize":12,"font":"Noto Sans CJK KR","color":"#1a1acd","align":"left","baseline":"middle","dx":4,"dy":-2},
"encoding":{"y":{"field":"p","type":"quantitative","axis":{"orient":"right","title":null,"values":[250,500,750,1000,1250,1500,1750,2000,2250,2500,2750,3000,3250,3500,3750,4000,4250,4500,4750,5000,5250,5500,5750,6000,6250,6500,6750,7000,7250,7500,7750,8000,8250,8500,8750,9000,9250,9500,9750,10000,10250,10500,10750,11000,11250,11500],"labelExpr":"(datum.value % 1000 == 0 && datum.value <= 10000) ? format(datum.value, ',') : ''"}},"text":{"field":"t"}}},
{"data":{"values":[{"d":"2027-02-07","p1":8970,"p2":11610,"k":"up"},{"d":"2027-02-07","p1":6220,"p2":8970,"k":"dn"}]},"mark":{"type":"rule","strokeWidth":3},
"encoding":{"y":{"field":"p1","type":"quantitative","axis":{"orient":"right","title":null,"values":[250,500,750,1000,1250,1500,1750,2000,2250,2500,2750,3000,3250,3500,3750,4000,4250,4500,4750,5000,5250,5500,5750,6000,6250,6500,6750,7000,7250,7500,7750,8000,8250,8500,8750,9000,9250,9500,9750,10000,10250,10500,10750,11000,11250,11500],"labelExpr":"(datum.value % 1000 == 0 && datum.value <= 10000) ? format(datum.value, ',') : ''"}},"y2":{"field":"p2"},
"color":{"field":"k","type":"nominal","legend":null,"scale":{"domain":["up","dn"],"range":["#e8141c","#2458c0"]}}}},
{"data":{"values":[{"d":"2027-03-19","p":11491,"t":"LC:1181,14","g":"lc"},{"d":"2027-03-19","p":11177,"t":"HC: 6,40","g":"hc"}]},"mark":{"type":"text","fontSize":12,"font":"Liberation Sans","align":"left","baseline":"middle","dx":1},
"encoding":{"y":{"field":"p","type":"quantitative","axis":{"orient":"right","title":null,"values":[250,500,750,1000,1250,1500,1750,2000,2250,2500,2750,3000,3250,3500,3750,4000,4250,4500,4750,5000,5250,5500,5750,6000,6250,6500,6750,7000,7250,7500,7750,8000,8250,8500,8750,9000,9250,9500,9750,10000,10250,10500,10750,11000,11250,11500],"labelExpr":"(datum.value % 1000 == 0 && datum.value <= 10000) ? format(datum.value, ',') : ''"}},"text":{"field":"t"},
"color":{"field":"g","type":"nominal","legend":null,"scale":{"domain":["lc","hc"],"range":["#e00000","#2050c0"]}}}},
{"data":{"values":[{"d":"2027-04-24","x2":"2028-09-01","p1":10587,"p2":11040}]},"mark":{"type":"rect","color":"#f01010"},
"encoding":{"x2":{"field":"x2"},"y":{"field":"p1","type":"quantitative","axis":{"orient":"right","title":null,"values":[250,500,750,1000,1250,1500,1750,2000,2250,2500,2750,3000,3250,3500,3750,4000,4250,4500,4750,5000,5250,5500,5750,6000,6250,6500,6750,7000,7250,7500,7750,8000,8250,8500,8750,9000,9250,9500,9750,10000,10250,10500,10750,11000,11250,11500],"labelExpr":"(datum.value % 1000 == 0 && datum.value <= 10000) ? format(datum.value, ',') : ''"}},"y2":{"field":"p2"}}},
{"data":{"values":[{"d":"2027-03-19","p":10823,"t":"10,800","g":"box"},{"d":"2027-03-19","p":10352,"t":"26,02%","g":"pct"}]},"mark":{"type":"text","fontSize":12,"font":"Liberation Sans","align":"left","baseline":"middle","dx":9},
"encoding":{"y":{"field":"p","type":"quantitative","axis":{"orient":"right","title":null,"values":[250,500,750,1000,1250,1500,1750,2000,2250,2500,2750,3000,3250,3500,3750,4000,4250,4500,4750,5000,5250,5500,5750,6000,6250,6500,6750,7000,7250,7500,7750,8000,8250,8500,8750,9000,9250,9500,9750,10000,10250,10500,10750,11000,11250,11500],"labelExpr":"(datum.value % 1000 == 0 && datum.value <= 10000) ? format(datum.value, ',') : ''"}},"text":{"field":"t"},
"color":{"field":"g","type":"nominal","legend":null,"scale":{"domain":["box","pct"],"range":["#ffffff","#e00000"]}}}}
]
},
{
"width":1040,"height":146,
"resolve":{"scale":{"color":"independent"}},
"encoding":{"x":{"field":"d","type":"temporal","scale":{"type":"utc","domain":["2001-11-13","2027-03-19"]},
"axis":{"title":null,"grid":false,"values":["2001-11-13","2003-01-01","2004-01-01","2005-01-01","2006-01-01","2007-01-01","2008-01-01","2009-01-01","2010-01-01","2011-01-01","2012-01-01","2013-01-01","2014-01-01","2015-01-01","2016-01-01","2017-01-01","2018-01-01","2019-01-01","2027-03-19"],
"labelExpr":"utcyear(datum.value) > 2026 ? '10/01' : utcFormat(datum.value, '%Y')",
"tickSize":21,"tickColor":"#8c8c8c","domainColor":"#8c8c8c","labelAlign":"left","labelBaseline":"middle","labelPadding":-11,"labelOffset":3,"labelFlush":false,"labelOverlap":false,"labelBound":false,"labelFont":"Liberation Sans","labelFontSize":12,"labelColor":"#333333"}}},
"layer":[
{"data":{"name":"px"},"transform":[{"window":[{"op":"lag","field":"v","as":"pv"}],"sort":[{"field":"d","order":"ascending"}]}],
"mark":{"type":"bar","width":2.8,"clip":true},
"encoding":{"y":{"field":"v","type":"quantitative","scale":{"domain":[0,30400],"nice":false,"zero":true},
"axis":{"orient":"right","title":null,"values":[2500,5000,7500,10000,12500,15000,17500,20000,22500,25000,27500],"labelExpr":"(datum.value == 5000 || datum.value == 15000 || datum.value == 20000 || datum.value == 25000) ? format(datum.value, ',') + 'K' : ''"}},
"color":{"condition":{"test":"isValid(datum.pv) && datum.v >= datum.pv","value":"#e8141c"},"value":"#1f5bc4"}}},
{"data":{"name":"vma"},"mark":{"type":"line","strokeWidth":1,"interpolate":"monotone","clip":true},
"encoding":{"y":{"field":"v","type":"quantitative","axis":{"orient":"right","title":null,"values":[2500,5000,7500,10000,12500,15000,17500,20000,22500,25000,27500],"labelExpr":"(datum.value == 5000 || datum.value == 15000 || datum.value == 20000 || datum.value == 25000) ? format(datum.value, ',') + 'K' : ''"}},
"color":{"field":"s","type":"nominal","legend":null,"scale":{"domain":["M5","M20","M60"],"range":["#c81ec8","#f0a000","#129612"]}},"detail":{"field":"s"}}},
{"data":{"values":[{"d":"2027-04-24","x2":"2028-09-01","p1":10200,"p2":12700}]},"mark":{"type":"rect","color":"#f01010"},
"encoding":{"x2":{"field":"x2"},"y":{"field":"p1","type":"quantitative","axis":{"orient":"right","title":null,"values":[2500,5000,7500,10000,12500,15000,17500,20000,22500,25000,27500],"labelExpr":"(datum.value == 5000 || datum.value == 15000 || datum.value == 20000 || datum.value == 25000) ? format(datum.value, ',') + 'K' : ''"}},"y2":{"field":"p2"}}},
{"data":{"values":[{"d":"2027-03-19","p":29150,"t":"10,777,269주(344,08%)"}]},"mark":{"type":"text","fontSize":12,"font":"Noto Sans CJK KR","color":"#333333","align":"right","baseline":"middle","dx":-4},
"encoding":{"y":{"field":"p","type":"quantitative","axis":{"orient":"right","title":null,"values":[2500,5000,7500,10000,12500,15000,17500,20000,22500,25000,27500],"labelExpr":"(datum.value == 5000 || datum.value == 15000 || datum.value == 20000 || datum.value == 25000) ? format(datum.value, ',') + 'K' : ''"}},"text":{"field":"t"}}},
{"data":{"values":[{"d":"2027-03-19","p":11450,"t":"10,777K","g":"box"},{"d":"2027-03-19","p":8536,"t":"344,08%","g":"pct"}]},"mark":{"type":"text","fontSize":12,"font":"Liberation Sans","align":"left","baseline":"middle","dx":9},
"encoding":{"y":{"field":"p","type":"quantitative","axis":{"orient":"right","title":null,"values":[2500,5000,7500,10000,12500,15000,17500,20000,22500,25000,27500],"labelExpr":"(datum.value == 5000 || datum.value == 15000 || datum.value == 20000 || datum.value == 25000) ? format(datum.value, ',') + 'K' : ''"}},"text":{"field":"t"},
"color":{"field":"g","type":"nominal","legend":null,"scale":{"domain":["box","pct"],"range":["#ffffff","#e00000"]}}}}
]
}
]
}
